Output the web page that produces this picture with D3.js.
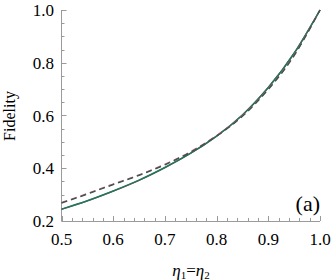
<!DOCTYPE html>
<html lang='en'>
<head>
	<meta charset='utf-8'>
	<script type='text/javascript' src='https://d3js.org/d3.v7.min.js'></script>
	<style type='text/css'>
		body{ margin:0; background:#fff; }
		svg text{ font-family:'Liberation Serif', 'Times New Roman', Times, serif; fill:#000; }
	</style>
</head>
<body>
	<div id='chart'></div>
	<script type='text/javascript'>
		// data
		var eta = [0.5, 0.55, 0.6, 0.65, 0.7, 0.75, 0.8, 0.85, 0.9, 0.95, 1.0];
		var solidRed   = [0.244, 0.276, 0.313, 0.354, 0.402, 0.457, 0.522, 0.602, 0.706, 0.836, 1.0];
		var solidGreen = [0.245, 0.277, 0.314, 0.355, 0.403, 0.457, 0.522, 0.602, 0.706, 0.836, 1.0];
		var dashedRed  = [0.270, 0.304, 0.340, 0.375, 0.415, 0.463, 0.524, 0.599, 0.701, 0.829, 1.0];
		var dashedDark = [0.268, 0.302, 0.338, 0.373, 0.413, 0.461, 0.522, 0.597, 0.699, 0.827, 1.0];
		var xTicks = [0.5, 0.6, 0.7, 0.8, 0.9, 1.0];
		var yTicks = [0.2, 0.4, 0.6, 0.8, 1.0];

		var width = 332, height = 280;
		var x = d3.scaleLinear().domain([0.5, 1.0]).range([61.5, 320]);
		var y = d3.scaleLinear().domain([0.2, 1.0]).range([221, 10]);

		var svg = d3.select('#chart').append('svg')
			.attr('width', width)
			.attr('height', height);

		var axisColor = '#9a9a9a';
		var fam = "'Liberation Serif', 'Times New Roman', serif";

		//y axis: line, major and minor ticks pointing inward
		svg.append('line')
			.attr('x1', x(0.5)).attr('x2', x(0.5))
			.attr('y1', y(0.2)).attr('y2', y(1.0))
			.style('stroke', axisColor).style('stroke-width', 1);
		svg.selectAll('.ytick')
			.data(d3.range(0.2, 1.0001, 0.05))
			.enter().append('line')
			.attr('x1', x(0.5)).attr('x2', function(d){
				var major = Math.abs(Math.round(d * 5) - d * 5) < 1e-6;
				return x(0.5) + (major ? 5 : 3);
			})
			.attr('y1', function(d){ return Math.round(y(d)) + 0.5; })
			.attr('y2', function(d){ return Math.round(y(d)) + 0.5; })
			.style('stroke', axisColor).style('stroke-width', 1);
		svg.selectAll('.ylab')
			.data(yTicks)
			.enter().append('text')
			.attr('x', 54)
			.attr('y', function(d){ return y(d) + 6; })
			.attr('text-anchor', 'end')
			.style('font-family', fam)
			.style('font-size', '17px')
			.text(function(d){ return d3.format('.1f')(d); });

		//x axis
		svg.append('line')
			.attr('x1', x(0.5)).attr('x2', x(1.0))
			.attr('y1', y(0.2) + 0.5).attr('y2', y(0.2) + 0.5)
			.style('stroke', axisColor).style('stroke-width', 1);
		svg.selectAll('.xtick')
			.data(d3.range(0.5, 1.0001, 0.02))
			.enter().append('line')
			.attr('x1', function(d){ return Math.round(x(d)) + 0.5; })
			.attr('x2', function(d){ return Math.round(x(d)) + 0.5; })
			.attr('y1', y(0.2))
			.attr('y2', function(d){
				var major = Math.abs(Math.round(d * 10) - d * 10) < 1e-6;
				return y(0.2) - (major ? 5 : 3);
			})
			.style('stroke', axisColor).style('stroke-width', 1);
		svg.selectAll('.xlab')
			.data(xTicks)
			.enter().append('text')
			.attr('x', function(d){ return x(d); })
			.attr('y', 245)
			.attr('text-anchor', 'middle')
			.style('font-family', fam)
			.style('font-size', '17px')
			.text(function(d){ return d3.format('.1f')(d); });

		//curves
		function drawLine(vals, color, dash, w){
			var line = d3.line()
				.x(function(d, i){ return x(eta[i]); })
				.y(function(d){ return y(d); })
				.curve(d3.curveNatural);
			svg.append('path')
				.datum(vals)
				.attr('d', line)
				.style('fill', 'none')
				.style('stroke', color)
				.style('stroke-width', w)
				.style('stroke-dasharray', dash);
		}
		drawLine(solidRed, '#b03060', null, 1.4);
		drawLine(solidGreen, '#1b7a5c', null, 1.5);
		drawLine(dashedRed, '#c8507a', '6,4', 1.4);
		drawLine(dashedDark, '#2f5a4c', '6,4', 1.3);

		//labels
		svg.append('text')
			.attr('transform', 'translate(15,116) rotate(-90)')
			.attr('text-anchor', 'middle')
			.style('font-family', fam)
			.style('font-size', '16px')
			.text('Fidelity');

		var xt = svg.append('text')
			.attr('x', 191)
			.attr('y', 276)
			.attr('text-anchor', 'middle')
			.style('font-family', fam)
			.style('font-size', '17px');
		xt.append('tspan').style('font-style', 'italic').text('η');
		xt.append('tspan').attr('dy', 3).style('font-size', '11px').text('1');
		xt.append('tspan').attr('dy', -3).text('=');
		xt.append('tspan').style('font-style', 'italic').text('η');
		xt.append('tspan').attr('dy', 3).style('font-size', '11px').text('2');

		svg.append('text')
			.attr('x', 320)
			.attr('y', 211)
			.attr('text-anchor', 'end')
			.style('font-family', fam)
			.style('font-size', '22px')
			.text('(a)');
	</script>
</body>
</html>
